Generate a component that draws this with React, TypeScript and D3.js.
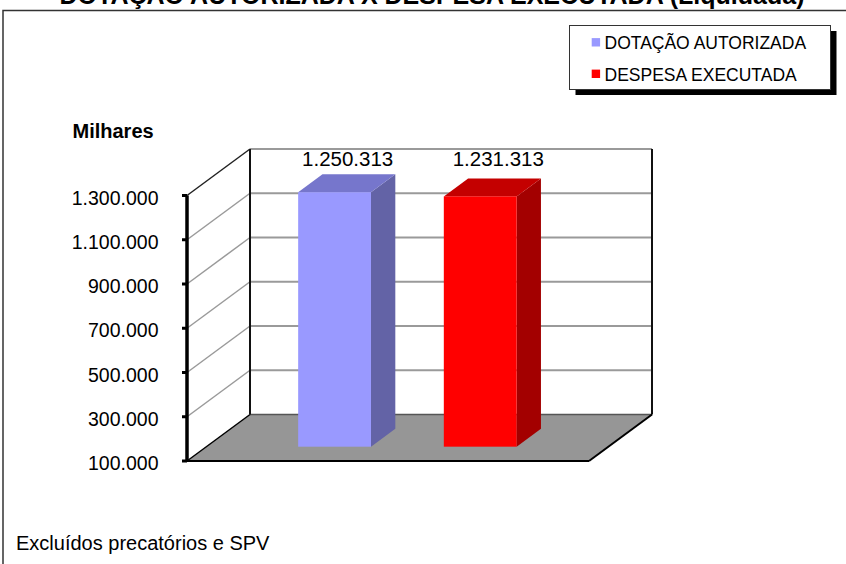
import { useEffect, useRef } from "react";
import * as d3 from "d3";

// chart data
const categories = ["DOTAÇÃO AUTORIZADA", "DESPESA EXECUTADA"];
const values = [1250313, 1231313];
const tickValues = [100000, 300000, 500000, 700000, 900000, 1100000, 1300000];

// colours per series: front, top, side
const frontColors = ["#9999FF", "#FF0000"];
const topColors = ["#7676CC", "#C40000"];
const sideColors = ["#6363A6", "#A30000"];

const ptBR = d3.formatLocale({
  decimal: ",",
  thousands: ".",
  grouping: [3],
  currency: ["R$", ""],
});
const fmt = ptBR.format(",d");

const FONT = "'Liberation Sans', Arial, sans-serif";

export default function App() {
  const ref = useRef<SVGSVGElement>(null);

  useEffect(() => {
    if (!ref.current) return;
    const svg = d3.select(ref.current);
    svg.selectAll("*").remove();

    const width = 846;
    const height = 564;

    // front plane scales
    const y = d3.scaleLinear().domain([100000, 1300000]).range([461, 195.5]);
    const x = d3
      .scaleBand()
      .domain(categories)
      .range([187, 589])
      .paddingInner(0.5)
      .paddingOuter(0.63);

    // depth projection
    const DX = 63;
    const DY = 46.5;
    const P = (px: number, py: number, d: number) => [px + d * DX, py - d * DY];
    const dFront = 0.308;
    const dBack = 0.694;

    const y0 = y(100000);
    const yTop = y(1300000);
    const xL = 187;
    const xR = 589;

    // background
    svg.append("rect").attr("width", width).attr("height", height).attr("fill", "white");

    // title (partly cut at top)
    svg
      .append("text")
      .attr("x", 432)
      .attr("y", 4)
      .attr("text-anchor", "middle")
      .style("font-family", FONT)
      .style("font-size", "25px")
      .style("font-weight", "bold")
      .text("DOTAÇÃO AUTORIZADA X DESPESA EXECUTADA (Liquidada)");

    // outer frame
    svg
      .append("rect")
      .attr("x", 3)
      .attr("y", 10.5)
      .attr("width", 900)
      .attr("height", 600)
      .attr("fill", "none")
      .attr("stroke", "#333")
      .attr("stroke-width", 1.5);

    // floor
    const floor = [P(xL, y0, 0), P(xL, y0, 1), P(xR, y0, 1), P(xR, y0, 0)];
    svg
      .append("polygon")
      .attr("points", floor.map((p) => p.join(",")).join(" "))
      .attr("fill", "#969696");

    // back wall gridlines
    tickValues.slice(1).forEach((t) => {
      const [ax, ay] = P(xL, y(t), 1);
      const [bx] = P(xR, y(t), 1);
      svg
        .append("line")
        .attr("x1", ax)
        .attr("x2", bx)
        .attr("y1", ay)
        .attr("y2", ay)
        .attr("stroke", "#9a9a9a")
        .attr("stroke-width", 2);
    });
    // back floor edge
    svg
      .append("line")
      .attr("x1", xL + DX)
      .attr("x2", xR + DX)
      .attr("y1", y0 - DY)
      .attr("y2", y0 - DY)
      .attr("stroke", "#555")
      .attr("stroke-width", 1.5);

    // side wall gridlines
    tickValues.slice(1).forEach((t, i, arr) => {
      const [bx, by] = P(xL, y(t), 1);
      svg
        .append("line")
        .attr("x1", xL)
        .attr("y1", y(t))
        .attr("x2", bx)
        .attr("y2", by)
        .attr("stroke", i === arr.length - 1 ? "#222" : "#9a9a9a")
        .attr("stroke-width", 1.5);
    });

    // wall vertical edges
    [xL + DX, xR + DX].forEach((vx) => {
      svg
        .append("line")
        .attr("x1", vx)
        .attr("x2", vx)
        .attr("y1", yTop - DY)
        .attr("y2", y0 - DY)
        .attr("stroke", "#111")
        .attr("stroke-width", 2);
    });

    // floor edges
    const edge = (a: number[], b: number[], w: number) =>
      svg
        .append("line")
        .attr("x1", a[0])
        .attr("y1", a[1])
        .attr("x2", b[0])
        .attr("y2", b[1])
        .attr("stroke", "#000")
        .attr("stroke-width", w);
    edge(floor[0], floor[1], 1.5);
    edge(floor[0], floor[3], 2);
    edge(floor[3], floor[2], 2);

    // value axis
    svg
      .append("line")
      .attr("x1", xL)
      .attr("x2", xL)
      .attr("y1", yTop)
      .attr("y2", y0 + 1)
      .attr("stroke", "#000")
      .attr("stroke-width", 3.5);
    tickValues.forEach((t) => {
      svg
        .append("line")
        .attr("x1", 182)
        .attr("x2", xL)
        .attr("y1", y(t))
        .attr("y2", y(t))
        .attr("stroke", "#000")
        .attr("stroke-width", 3);
      svg
        .append("text")
        .attr("x", 158.5)
        .attr("y", y(t) + 9)
        .attr("text-anchor", "end")
        .style("font-family", FONT)
        .style("font-size", "19.5px")
        .text(fmt(t));
    });

    svg
      .append("text")
      .attr("x", 72.5)
      .attr("y", 137.5)
      .style("font-family", FONT)
      .style("font-size", "20px")
      .style("font-weight", "bold")
      .text("Milhares");

    // bars
    const tops: number[] = [];
    categories.forEach((c, i) => {
      const bx0 = x(c)!;
      const bx1 = bx0 + x.bandwidth();
      const yv = y(values[i]);
      const [fx0, fy] = P(bx0, yv, dFront);
      const [fx1] = P(bx1, yv, dFront);
      const [, fyb] = P(bx0, y0, dFront);
      const [kx0, ky] = P(bx0, yv, dBack);
      const [kx1] = P(bx1, yv, dBack);
      const [, kyb] = P(bx0, y0, dBack);
      tops.push(ky);

      svg
        .append("polygon")
        .attr("points", [[fx1, fy], [kx1, ky], [kx1, kyb], [fx1, fyb]].map((p) => p.join(",")).join(" "))
        .attr("fill", sideColors[i]);
      svg
        .append("polygon")
        .attr("points", [[fx0, fy], [kx0, ky], [kx1, ky], [fx1, fy]].map((p) => p.join(",")).join(" "))
        .attr("fill", topColors[i]);
      svg
        .append("rect")
        .attr("x", fx0)
        .attr("y", fy)
        .attr("width", fx1 - fx0)
        .attr("height", fyb - fy)
        .attr("fill", frontColors[i]);
    });

    // data labels
    const labelY = d3.min(tops)! - 8;
    categories.forEach((c, i) => {
      const cx = x(c)! + x.bandwidth() / 2 + 0.5 * DX + (i === 0 ? 1 : 6);
      const t = svg
        .append("text")
        .attr("x", cx)
        .attr("y", labelY)
        .attr("text-anchor", "middle")
        .style("font-family", FONT)
        .style("font-size", "20.5px")
        .text(fmt(values[i]));
      const w = (t.node() as SVGTextElement).getComputedTextLength();
      svg
        .insert("rect", "text")
        .attr("x", cx - w / 2 - 10)
        .attr("y", labelY - 21)
        .attr("width", w + 20)
        .attr("height", 26)
        .attr("fill", "white");
    });

    // legend
    svg
      .append("rect")
      .attr("x", 575.5)
      .attr("y", 31)
      .attr("width", 261)
      .attr("height", 64)
      .attr("fill", "#000");
    svg
      .append("rect")
      .attr("x", 569.5)
      .attr("y", 25.5)
      .attr("width", 261)
      .attr("height", 64)
      .attr("fill", "white")
      .attr("stroke", "#333")
      .attr("stroke-width", 1);
    categories.forEach((c, i) => {
      const cy = 42.3 + i * 31.5;
      svg
        .append("rect")
        .attr("x", 591.7)
        .attr("y", cy - 4.2)
        .attr("width", 8.4)
        .attr("height", 8.4)
        .attr("fill", frontColors[i]);
      svg
        .append("text")
        .attr("x", 604.5)
        .attr("y", cy + 6.8)
        .style("font-family", FONT)
        .style("font-size", "17.5px")
        .text(c);
    });

    // footnote
    svg
      .append("text")
      .attr("x", 16)
      .attr("y", 550)
      .style("font-family", FONT)
      .style("font-size", "20px")
      .text("Excluídos precatórios e SPV");
  }, []);

  return (
    <svg
      ref={ref}
      width={846}
      height={564}
      style={{ position: "absolute", left: 0, top: 0, display: "block" }}
    />
  );
}
